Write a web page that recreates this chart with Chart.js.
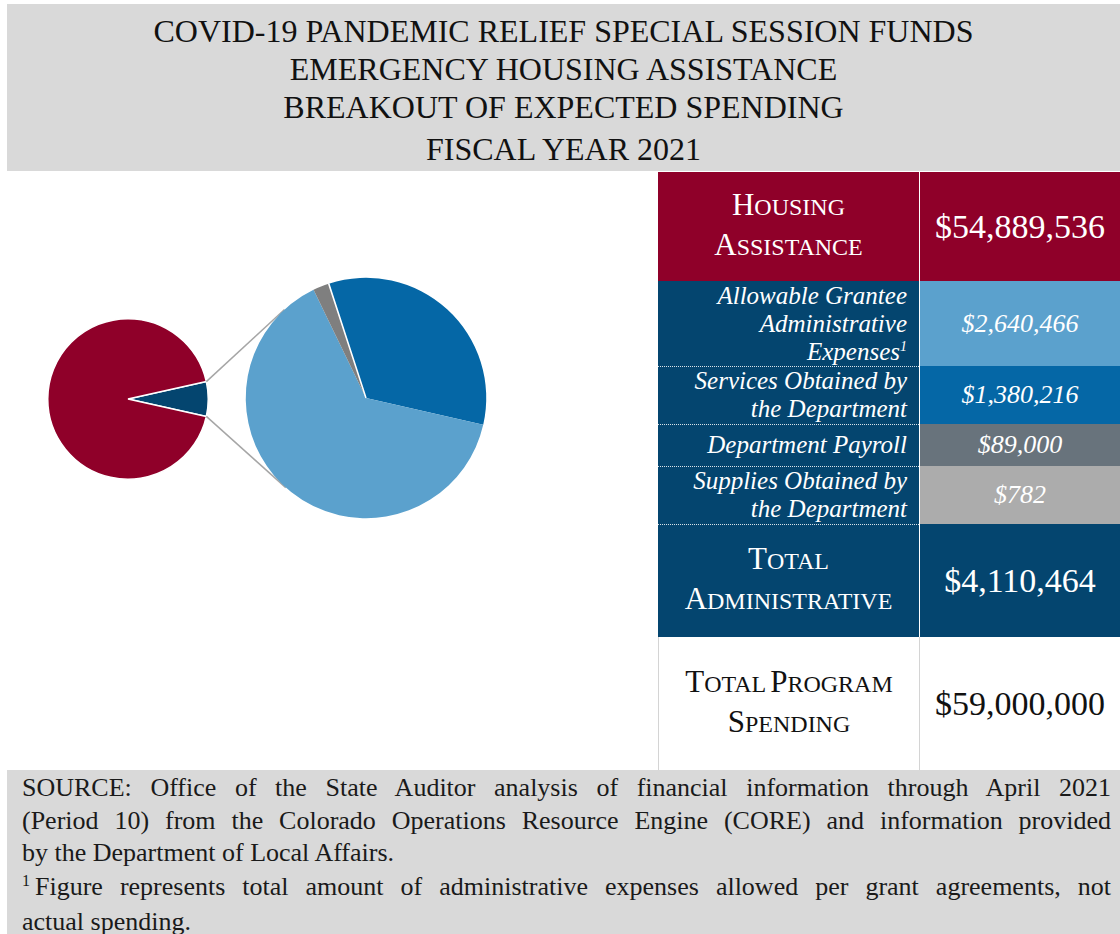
<!DOCTYPE html>
<html>
<head>
<meta charset="utf-8">
<script src="https://cdn.jsdelivr.net/npm/chart.js@4.4.1/dist/chart.umd.min.js"></script>
<style>
  body { margin: 0; background: #fff; font-family: 'Liberation Serif', 'Times New Roman', serif; }
  #page { position: relative; width: 1120px; height: 934px; overflow: hidden; }
  .band { position: absolute; left: 7px; width: 1113px; background: #d9d9d9; overflow: hidden; }
  .tline { position: absolute; left: 0; width: 100%; text-align: center; font-size: 32px; line-height: 38px; color: #111; }
  #pies { position: absolute; left: 0; top: 172px; }
  #pies canvas { position: absolute; left: 0; top: 0; }
  .cell { position: absolute; box-sizing: border-box; color: #fff; display: flex; flex-direction: column; justify-content: center; }
  .lab-caps { align-items: center; text-align: center; line-height: 35px; }
  .lab-ital { align-items: flex-end; text-align: right; font-style: italic; font-size: 25px; line-height: 28px; padding-right: 12px; }
  .val { align-items: center; text-align: center; font-size: 34px; }
  .val-ital { align-items: center; text-align: center; font-style: italic; font-size: 26px; }
  .dots { position: absolute; left: 658px; width: 261px; height: 0; border-top: 1px dotted rgba(255,255,255,0.85); }
  .sline { position: absolute; left: 15px; width: 1089px; font-size: 26px; line-height: 34px; color: #1a1a1a; white-space: nowrap; }
  .just { text-align: justify; text-align-last: justify; }
  .fn { position: relative; top: -9px; font-size: 16px; line-height: 0; margin-right: 5px; }
</style>
</head>
<body>
<div id="page">
  <div class="band" style="top:4px;height:167px;">
    <div class="tline" style="top:8px;">COVID-19 PANDEMIC RELIEF SPECIAL SESSION FUNDS</div>
    <div class="tline" style="top:46px;">EMERGENCY HOUSING ASSISTANCE</div>
    <div class="tline" style="top:84px;">BREAKOUT OF EXPECTED SPENDING</div>
    <div class="tline" style="top:126px;">FISCAL YEAR 2021</div>
  </div>

  <div id="pies">
    <canvas id="mainPie" width="656" height="598"></canvas>
    <canvas id="adminPie" width="656" height="598"></canvas>
  </div>

  <div id="table"></div>

  <div class="band" style="top:770px;height:164px;">
    <div class="sline just" style="top:1px;">SOURCE: Office of the State Auditor analysis of financial information through April 2021</div>
    <div class="sline just" style="top:34px;">(Period 10) from the Colorado Operations Resource Engine (CORE) and information provided</div>
    <div class="sline" style="top:66px;">by the Department of Local Affairs.</div>
    <div class="sline just" style="top:100px;"><span class="fn">1</span>Figure represents total amount of administrative expenses allowed per grant agreements, not</div>
    <div class="sline" style="top:135px;">actual spending.</div>
  </div>
</div>

<script>
// total program split
var mainLabels = ['Total Administrative', 'Housing Assistance'];
var mainValues = [4110464, 54889536];
var mainColors = ['#04456f', '#8f0029'];

// administrative breakout, clockwise from the top
var adminLabels = ['Services Obtained by the Department', 'Allowable Grantee Administrative Expenses', 'Department Payroll', 'Supplies Obtained by the Department'];
var adminValues = [1380216, 2640466, 89000, 782];
var adminColors = ['#0567a6', '#5ba1cd', '#7f7f7f', '#acacac'];

var totalProgram = mainValues[0] + mainValues[1];
var fmt = function(v){ return '$' + v.toLocaleString('en-US'); };

// ── pies ──
var adminShareDeg = mainValues[0] / totalProgram * 360;

var mainChart = new Chart(document.getElementById('mainPie'), {
  type: 'pie',
  data: {
    labels: mainLabels,
    datasets: [{ data: mainValues, backgroundColor: mainColors, borderColor: '#fff', borderWidth: 1.5, hoverOffset: 0 }]
  },
  options: {
    responsive: false, animation: false, events: [],
    rotation: 90 - adminShareDeg / 2,
    layout: { padding: { left: 47, top: 146, right: 447, bottom: 290 } },
    plugins: { legend: { display: false }, tooltip: { enabled: false } }
  }
});

// grey lines from the admin wedge to the tangents of the breakout pie
var connectorLines = {
  id: 'connectorLines',
  beforeDatasetsDraw: function(chart){
    var a = mainChart.getDatasetMeta(0).data[0];
    var c = chart.getDatasetMeta(0).data[0];
    var ctx = chart.ctx;
    ctx.save();
    ctx.strokeStyle = '#a6a6a6';
    ctx.lineWidth = 1.5;
    [[a.startAngle, 1], [a.endAngle, -1]].forEach(function(p){
      var px = a.x + a.outerRadius * Math.cos(p[0]);
      var py = a.y + a.outerRadius * Math.sin(p[0]);
      var d = Math.hypot(px - c.x, py - c.y);
      var t = Math.atan2(py - c.y, px - c.x) + p[1] * Math.acos(c.outerRadius / d);
      ctx.beginPath();
      ctx.moveTo(px, py);
      ctx.lineTo(c.x + c.outerRadius * Math.cos(t), c.y + c.outerRadius * Math.sin(t));
      ctx.stroke();
    });
    ctx.restore();
  }
};

new Chart(document.getElementById('adminPie'), {
  type: 'pie',
  data: {
    labels: adminLabels,
    datasets: [{ data: adminValues, backgroundColor: adminColors, borderColor: '#fff', borderWidth: [0, 0, 0, 1.5], hoverOffset: 0 }]
  },
  options: {
    responsive: false, animation: false, events: [],
    rotation: -18,
    layout: { padding: { left: 245, top: 105, right: 169, bottom: 251 } },
    plugins: { legend: { display: false }, tooltip: { enabled: false } }
  },
  plugins: [connectorLines]
});

// ── table ──
function caps(text){
  return text.split(' ').map(function(w){
    return '<span style="font-size:31px">' + w.charAt(0).toUpperCase() + '</span><span style="font-size:24px">' + w.slice(1).toUpperCase() + '</span>';
  }).join(' ');
}

var rows = [
  { top: 172, h: 109, bg: '#8f0029', vbg: '#8f0029', caps: ['Housing', 'Assistance'], value: fmt(mainValues[1]) },
  { top: 281, h: 85, bg: '#04456f', vbg: adminColors[1], ital: ['Allowable Grantee', 'Administrative', 'Expenses<sup style="font-size:14px;line-height:0">1</sup>'], value: fmt(adminValues[1]) },
  { top: 366, h: 58, bg: '#04456f', vbg: adminColors[0], ital: ['Services Obtained by', 'the Department'], value: fmt(adminValues[0]) },
  { top: 424, h: 42, bg: '#04456f', vbg: '#68737c', ital: ['Department Payroll'], value: fmt(adminValues[2]) },
  { top: 466, h: 58, bg: '#04456f', vbg: adminColors[3], ital: ['Supplies Obtained by', 'the Department'], value: fmt(adminValues[3]) },
  { top: 524, h: 113, bg: '#04456f', vbg: '#04456f', caps: ['Total', 'Administrative'], value: fmt(mainValues[0]) },
  { top: 637, h: 133, bg: '#fff', vbg: '#fff', caps: ['Total Program', 'Spending'], value: fmt(totalProgram), dark: true }
];

var html = '';
rows.forEach(function(r){
  var color = r.dark ? '#111' : '#fff';
  var border = r.dark ? 'border-left:1px solid #d4d4d4;border-right:1px solid #d4d4d4;' : '';
  var lab = r.caps ? r.caps.map(caps).join('<br>') : r.ital.join('<br>');
  html += '<div class="cell ' + (r.caps ? 'lab-caps' : 'lab-ital') + '" style="left:658px;top:' + r.top + 'px;width:' + (r.dark ? 262 : 261) + 'px;height:' + r.h + 'px;background:' + r.bg + ';color:' + color + ';' + border + '"><div>' + lab + '</div></div>';
  html += '<div class="cell ' + (r.caps ? 'val' : 'val-ital') + '" style="left:920px;top:' + r.top + 'px;width:200px;height:' + r.h + 'px;background:' + r.vbg + ';color:' + color + '"><div>' + r.value + '</div></div>';
});
[366, 424, 466, 524].forEach(function(y){
  html += '<div class="dots" style="top:' + y + 'px"></div>';
});
document.getElementById('table').innerHTML = html;
</script>
</body>
</html>
